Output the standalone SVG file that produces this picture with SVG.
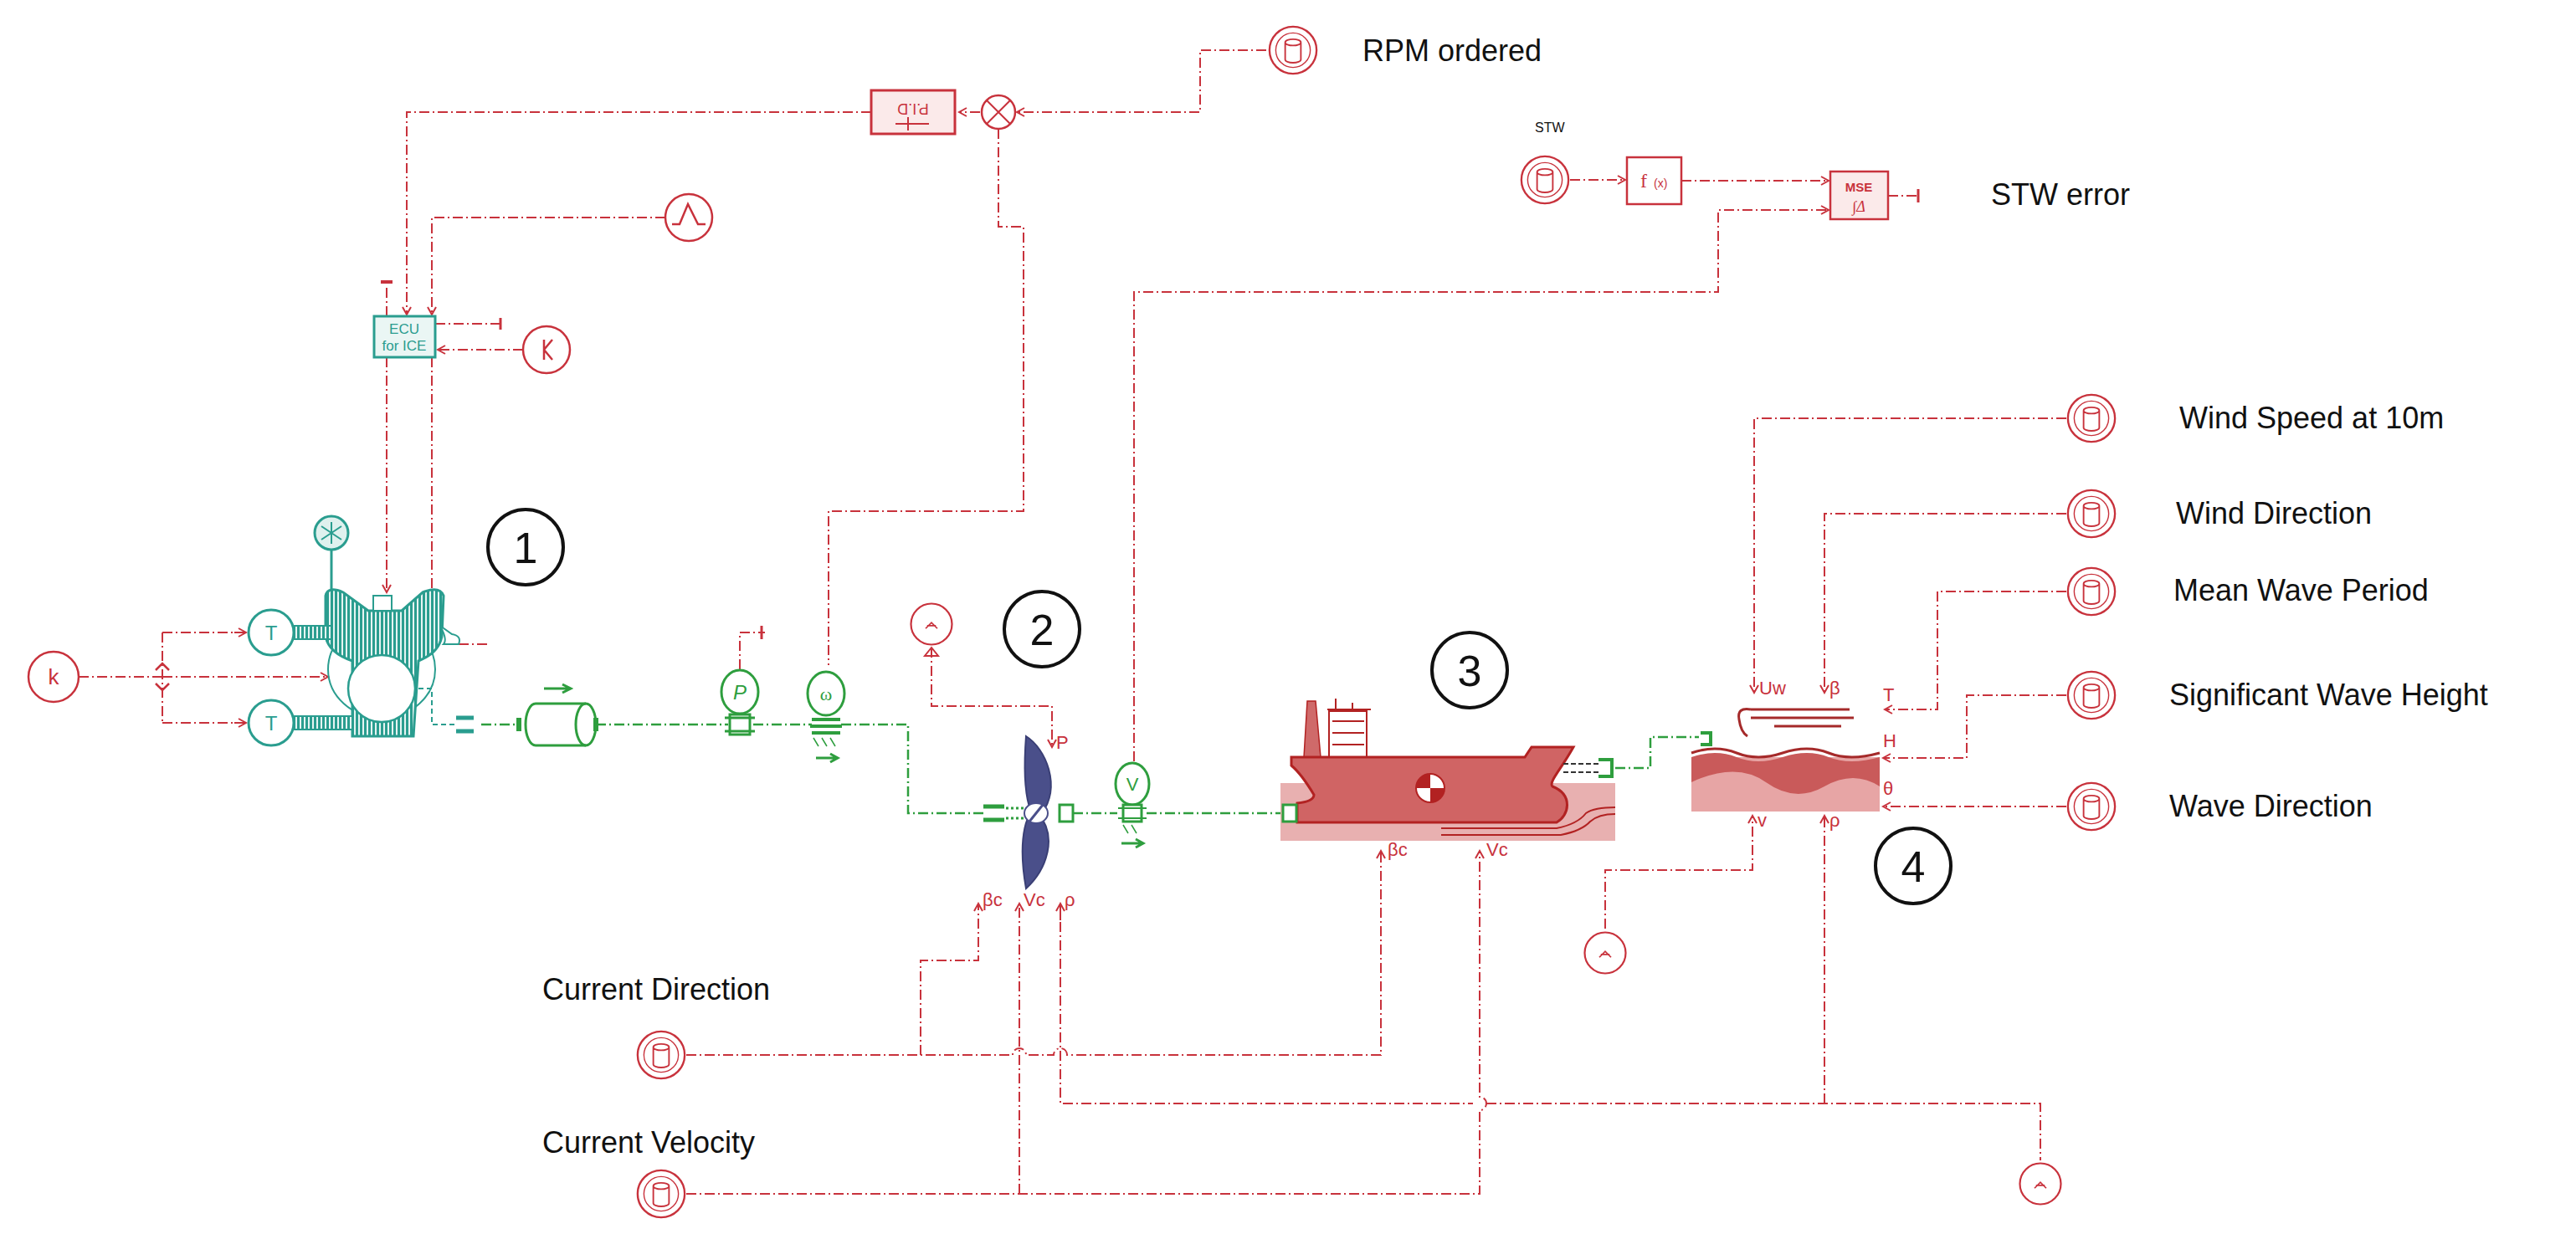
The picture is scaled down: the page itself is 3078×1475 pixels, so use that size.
<svg xmlns="http://www.w3.org/2000/svg" width="3078" height="1475" viewBox="0 0 3078 1475">
<style>
.sig{fill:none;stroke:#c8323c;stroke-width:2;stroke-dasharray:12,4,2,4}
.shaft{fill:none;stroke:#2e9e3e;stroke-width:2.5;stroke-dasharray:12,4,2,4}
.src{fill:#fff;stroke:#c8323c;stroke-width:2.5}
.red{fill:none;stroke:#c8323c;stroke-width:2.5}
.teal{fill:none;stroke:#2a9d8f;stroke-width:3}
.grn{fill:none;stroke:#2e9e3e;stroke-width:3}
.lbl{font-family:"Liberation Sans",Arial,sans-serif;font-size:36px;fill:#111}
.pl{font-family:"Liberation Sans",Arial,sans-serif;font-size:22px;fill:#c8323c}
.num{fill:#fff;stroke:#111;stroke-width:4}
.numt{font-family:"Liberation Sans",Arial,sans-serif;font-size:52px;fill:#111;text-anchor:middle}
</style>
<defs>
<marker id="ar" markerWidth="12" markerHeight="12" refX="10" refY="6" orient="auto" markerUnits="userSpaceOnUse"><path d="M1,1 L10,6 L1,11" fill="none" stroke="#c8323c" stroke-width="2"/></marker>
<pattern id="hatch" width="5" height="10" patternUnits="userSpaceOnUse"><rect width="5" height="10" fill="#e6f4f2"/><rect width="3" height="10" fill="#2a9d8f"/></pattern>
<symbol id="db" viewBox="-32 -32 64 64" overflow="visible">
<circle r="30" class="src"/><circle r="22" fill="none" stroke="#c8323c" stroke-width="1.5"/>
<path d="M-10,-10 V12 A10,4 0 0 0 10,12 V-10 A10,4 0 0 0 -10,-10 A10,4 0 0 0 10,-10" fill="none" stroke="#c8323c" stroke-width="2"/>
</symbol>
<symbol id="cst" viewBox="-32 -32 64 64" overflow="visible">
<circle r="28" class="src"/><path d="M-8,6 L0,-2 L8,6 M-6,2 L6,2" fill="none" stroke="#c8323c" stroke-width="2"/>
</symbol>
</defs>

<g id="connectors">
<path class="sig" d="M1513,60 H1434 V134 H1215" marker-end="url(#ar)"/>
<path class="sig" d="M1171,134 H1146" marker-end="url(#ar)"/>
<path class="sig" d="M1041,134 H486 V376" marker-end="url(#ar)"/>
<path class="sig" d="M795,260 H516 V376" marker-end="url(#ar)"/>
<path class="sig" d="M625,418 H523" marker-end="url(#ar)"/>
<path class="sig" d="M520,387 H598"/>
<path class="sig" d="M462,378 V340"/>
<path class="sig" d="M462,427 V708" marker-end="url(#ar)"/>
<path class="sig" d="M516,427 V708"/>
<path class="sig" d="M1193,154 V271 H1223 V611 H990 V795"/>
<path class="sig" d="M1876,215 H1942" marker-end="url(#ar)"/>
<path class="sig" d="M2009,216 H2185" marker-end="url(#ar)"/>
<path class="sig" d="M1355,910 V349 H2053 V251 H2185" marker-end="url(#ar)"/>
<path class="sig" d="M2256,234 H2290"/>
<path class="sig" d="M94,809 H194 M194,756 V864 M194,756 H294 M194,864 H294 M194,809 H390" />
<path class="sig" d="M280,756 H294" marker-end="url(#ar)"/>
<path class="sig" d="M280,864 H294" marker-end="url(#ar)"/>
<path class="sig" d="M370,809 H392" marker-end="url(#ar)"/>
<path class="sig" d="M548,770 H582"/>
<path class="sig" d="M884,800 V756 H914"/>
<path fill="none" stroke="#2a9d8f" stroke-width="2" stroke-dasharray="6,4" d="M460,823 H516 V866 H545"/>
<path class="shaft" d="M575,866 H620 M712,866 H870 M900,866 H970 M1005,866 H1085 V972 H1175 M1282,972 H1335 M1370,972 H1532"/>
<path class="shaft" d="M1930,918 H1972 V881 H2030"/>
<path class="sig" d="M1113,774 V844 H1257 V893" marker-end="url(#ar)"/>
<path class="sig" d="M820,1261 H1210 A8,8 0 0 1 1226,1261 H1259 A8,8 0 0 1 1275,1261 H1650 V1017" marker-end="url(#ar)"/>
<path class="sig" d="M1100,1261 V1148 H1169 V1080" marker-end="url(#ar)"/>
<path class="sig" d="M820,1427 H1768 V1327 A8,8 0 0 0 1768,1311 V1017" marker-end="url(#ar)"/>
<path class="sig" d="M1218,1427 V1080" marker-end="url(#ar)"/>
<path class="sig" d="M1267,1080 V1319 H1760 M1776,1319 H2438 V1387"/>
<path class="sig" d="M1267,1100 V1080" marker-end="url(#ar)"/>
<path class="sig" d="M2180,1319 V975" marker-end="url(#ar)"/>
<path class="sig" d="M1918,1110 V1040 H2094 V975" marker-end="url(#ar)"/>
<path class="sig" d="M2469,500 H2096 V828" marker-end="url(#ar)"/>
<path class="sig" d="M2469,614 H2180 V828" marker-end="url(#ar)"/>
<path class="sig" d="M2469,707 H2315 V848 H2252" marker-end="url(#ar)"/>
<path class="sig" d="M2469,831 H2350 V906 H2250" marker-end="url(#ar)"/>
<path class="sig" d="M2469,964 H2250" marker-end="url(#ar)"/>
</g>

<g id="rpm-src"><use href="#db" x="1515" y="30" width="60" height="60"/><text class="lbl" x="1628" y="73">RPM ordered</text></g>
<g id="pid"><rect x="1041" y="108" width="100" height="52" fill="#fbeaea" stroke="#c8323c" stroke-width="3"/>
<text x="1091" y="130" font-family="Liberation Sans,sans-serif" font-size="18" fill="#c8323c" text-anchor="middle" transform="rotate(180 1091 127)">P.I.D</text>
<path d="M1070,148 H1110 M1085,140 V156" stroke="#c8323c" stroke-width="2"/></g>
<g id="sum"><circle cx="1193" cy="134" r="20" class="src"/><path d="M1179,120 L1207,148 M1207,120 L1179,148" stroke="#c8323c" stroke-width="2"/></g>
<g id="sinus"><circle cx="823" cy="260" r="28" class="src"/><path d="M803,268 H812 L822,244 L834,268 H843" class="red" stroke-width="2"/></g>
<g id="ecu"><rect x="447" y="378" width="73" height="49" fill="#eaf6f4" stroke="#2a9d8f" stroke-width="3"/>
<text x="483" y="399" font-family="Liberation Sans,sans-serif" font-size="17" fill="#2a9d8f" text-anchor="middle">ECU</text>
<text x="483" y="419" font-family="Liberation Sans,sans-serif" font-size="17" fill="#2a9d8f" text-anchor="middle">for ICE</text>
<path d="M455,337 H469" stroke="#c8323c" stroke-width="4"/><path d="M598,380 V394" stroke="#c8323c" stroke-width="3"/></g>
<g id="kconst"><circle cx="653" cy="418" r="28" class="src"/><path d="M650,406 V430 M650,418 L660,406 M650,418 L660,430" class="red" stroke-width="2"/></g>

<g id="stw"><text x="1834" y="158" font-family="Liberation Sans,sans-serif" font-size="16" fill="#111">STW</text>
<use href="#db" x="1816" y="185" width="60" height="60"/></g>
<g id="fx"><rect x="1944" y="188" width="65" height="56" fill="#fff" stroke="#c8323c" stroke-width="2.5"/>
<text x="1960" y="224" font-family="Liberation Serif,serif" font-size="24" fill="#c8323c">f</text><text x="1976" y="224" font-family="Liberation Sans,sans-serif" font-size="14" fill="#c8323c">(x)</text></g>
<g id="mse"><rect x="2187" y="205" width="69" height="57" fill="#fbeaea" stroke="#c8323c" stroke-width="2.5"/>
<text x="2221" y="229" font-family="Liberation Sans,sans-serif" font-size="15" font-weight="bold" fill="#c8323c" text-anchor="middle">MSE</text>
<text x="2221" y="253" font-family="Liberation Serif,serif" font-size="18" font-style="italic" fill="#c8323c" text-anchor="middle">∫Δ</text>
<path d="M2292,226 V242" stroke="#c8323c" stroke-width="3"/>
<text class="lbl" x="2379" y="245">STW error</text></g>

<g id="engine">
<circle cx="396" cy="637" r="20" fill="#dff1ee" stroke="#2a9d8f" stroke-width="3"/><path d="M384,629 L408,645 M384,645 L408,629 M396,624 V650" stroke="#2a9d8f" stroke-width="2"/>
<path class="teal" d="M396,657 V705"/>
<ellipse cx="456" cy="800" rx="64" ry="58" fill="none" stroke="#2a9d8f" stroke-width="2"/>
<path d="M389,712 Q392,700 410,708 L440,730 H480 L505,708 Q525,700 530,712 L528,760 Q525,780 500,790 L494,880 H421 L421,790 Q392,780 389,760 Z" fill="url(#hatch)" stroke="#2a9d8f" stroke-width="3"/>
<circle cx="456" cy="823" r="40" fill="#fff" stroke="#2a9d8f" stroke-width="2.5"/>
<rect x="446" y="712" width="22" height="18" fill="#fff" stroke="#2a9d8f" stroke-width="2"/>
<circle cx="324" cy="756" r="27" fill="#fff" stroke="#2a9d8f" stroke-width="3"/><text x="324" y="765" font-family="Liberation Sans,sans-serif" font-size="24" fill="#2a9d8f" text-anchor="middle">T</text>
<circle cx="324" cy="864" r="27" fill="#fff" stroke="#2a9d8f" stroke-width="3"/><text x="324" y="873" font-family="Liberation Sans,sans-serif" font-size="24" fill="#2a9d8f" text-anchor="middle">T</text>
<rect x="351" y="748" width="45" height="16" fill="url(#hatch)" stroke="#2a9d8f" stroke-width="2"/>
<rect x="351" y="856" width="70" height="16" fill="url(#hatch)" stroke="#2a9d8f" stroke-width="2"/>
<path d="M526,748 Q535,765 530,770 H548 Q552,760 540,758 Z" fill="#fff" stroke="#2a9d8f" stroke-width="2"/>
<path d="M545,858 H566 M545,874 H566" stroke="#2a9d8f" stroke-width="5"/>
</g>
<g id="k-src"><circle cx="64" cy="809" r="30" class="src"/><text x="64" y="818" font-family="Liberation Sans,sans-serif" font-size="26" fill="#c8323c" text-anchor="middle">k</text>
<path d="M186,801 L194,793 L202,801 M186,817 L194,825 L202,817" class="red" stroke-width="2"/></g>

<g id="inertia"><path d="M640,841 H700 A12,25 0 0 1 700,891 H640 A12,25 0 0 1 640,841 Z" fill="#fff" stroke="#2e9e3e" stroke-width="3"/>
<path d="M700,841 A12,25 0 0 0 700,891" class="grn" stroke-width="2"/>
<path d="M620,858 V874 M712,858 V874" stroke="#2e9e3e" stroke-width="6"/>
<path d="M650,823 H680 M672,818 L682,823 L672,828" class="grn" stroke-width="2.5"/></g>
<g id="psensor"><ellipse cx="884" cy="827" rx="22" ry="26" fill="#fff" stroke="#2e9e3e" stroke-width="3"/><text x="884" y="836" font-family="Liberation Sans,sans-serif" font-size="24" font-style="italic" fill="#2e9e3e" text-anchor="middle">P</text>
<rect x="872" y="854" width="24" height="24" fill="#fff" stroke="#2e9e3e" stroke-width="3"/><path d="M866,858 H902 M866,874 H902" stroke="#2e9e3e" stroke-width="3"/>
<path d="M910,748 V764" stroke="#c8323c" stroke-width="3"/></g>
<g id="wsensor"><ellipse cx="987" cy="829" rx="22" ry="26" fill="#fff" stroke="#2e9e3e" stroke-width="3"/><text x="987" y="837" font-family="Liberation Serif,serif" font-size="22" fill="#2e9e3e" text-anchor="middle">ω</text>
<path d="M970,860 H1004 M968,868 H1006 M970,876 H1004" stroke="#2e9e3e" stroke-width="4"/>
<path d="M972,882 L978,892 M982,882 L988,892 M992,882 L998,892" stroke="#2e9e3e" stroke-width="1.5"/>
<path d="M975,906 H1000 M992,901 L1001,906 L992,911" class="grn" stroke-width="2.5"/></g>

<g id="propeller">
<path d="M1175,964 H1200 M1175,980 H1200" stroke="#2e9e3e" stroke-width="5"/>
<path d="M1202,966 H1225 M1202,978 H1225" stroke="#2e9e3e" stroke-width="3" stroke-dasharray="3,3"/>
<path d="M1226,880 C1250,895 1268,940 1245,972 C1235,990 1220,960 1226,880 Z" fill="#4a4f8a" stroke="#3a3f75" stroke-width="2"/>
<path d="M1226,1062 C1250,1040 1265,1000 1240,972 C1228,962 1215,1000 1226,1062 Z" fill="#4a4f8a" stroke="#3a3f75" stroke-width="2"/>
<ellipse cx="1238" cy="972" rx="14" ry="12" fill="#fff" stroke="#4a4f8a" stroke-width="2"/><path d="M1230,982 L1246,962" stroke="#4a4f8a" stroke-width="3"/>
<rect x="1266" y="962" width="16" height="20" fill="#fff" stroke="#2e9e3e" stroke-width="3"/>
<text class="pl" x="1262" y="895">P</text>
<text class="pl" x="1174" y="1083">βc</text><text class="pl" x="1223" y="1083">Vc</text><text class="pl" x="1272" y="1083">ρ</text>
<path d="M1113,774 l-8,10 h16 z" fill="none" stroke="#c8323c" stroke-width="2"/>
</g>
<g id="const-prop"><use href="#cst" x="1085" y="718" width="56" height="56"/></g>
<g id="vsensor"><ellipse cx="1353" cy="937" rx="20" ry="25" fill="#fff" stroke="#2e9e3e" stroke-width="3"/><text x="1353" y="945" font-family="Liberation Sans,sans-serif" font-size="22" fill="#2e9e3e" text-anchor="middle">V</text>
<rect x="1342" y="962" width="22" height="20" fill="#fff" stroke="#2e9e3e" stroke-width="3"/><path d="M1336,966 H1370 M1336,978 H1370" stroke="#2e9e3e" stroke-width="2"/>
<path d="M1342,986 L1348,996 M1352,986 L1358,996" stroke="#2e9e3e" stroke-width="1.5"/>
<path d="M1340,1008 H1365 M1357,1003 L1366,1008 L1357,1013" class="grn" stroke-width="2.5"/></g>

<g id="ship">
<rect x="1530" y="936" width="400" height="69" fill="#e8b0b0"/>
<path d="M1558,905 L1562,838 H1572 L1578,905 Z" fill="#cf6a6a" stroke="#b22222" stroke-width="1.5"/>
<rect x="1588" y="850" width="45" height="55" fill="#fff" stroke="#b22222" stroke-width="2"/>
<path d="M1592,862 H1630 M1592,876 H1630 M1592,890 H1630 M1586,848 H1638 M1596,835 V850 M1616,840 V850" stroke="#b22222" stroke-width="2"/>
<path d="M1543,905 H1822 L1830,893 H1880 C1865,920 1850,935 1855,940 C1880,950 1875,975 1860,983 H1550 V960 Q1570,958 1570,950 Q1555,925 1543,915 Z" fill="#d06464" stroke="#b22222" stroke-width="3"/>
<path d="M1722,990 H1860 Q1885,985 1895,972 Q1905,965 1930,965 M1722,998 H1865 Q1890,993 1900,982 Q1910,973 1930,973" fill="none" stroke="#b22222" stroke-width="2"/>
<circle cx="1709" cy="942" r="17" fill="#fff" stroke="#b22222" stroke-width="2"/>
<path d="M1709,942 V925 A17,17 0 0 0 1692,942 Z M1709,942 V959 A17,17 0 0 0 1726,942 Z" fill="#b22222"/>
<rect x="1533" y="962" width="16" height="20" fill="#fff" stroke="#2e9e3e" stroke-width="3"/>
<path d="M1868,913 H1912 M1868,923 H1912" stroke="#333" stroke-width="2" stroke-dasharray="6,3"/>
<path d="M1910,908 H1926 V928 H1910" fill="none" stroke="#2e9e3e" stroke-width="4"/>
<text class="pl" x="1658" y="1023">βc</text><text class="pl" x="1776" y="1023">Vc</text>
</g>

<g id="environment">
<rect x="2021" y="905" width="225" height="65" fill="#e7a5a5"/>
<path d="M2021,905 Q2050,895 2075,905 T2130,905 T2185,905 T2246,905 V940 Q2215,920 2180,940 T2110,935 T2021,935 Z" fill="#c95a5a"/>
<path d="M2021,900 Q2050,890 2075,900 T2130,900 T2185,900 T2246,900" fill="none" stroke="#a52a2a" stroke-width="3"/>
<path d="M2032,876 H2044 V890 H2032" fill="none" stroke="#2e9e3e" stroke-width="4"/>
<path d="M2092,848 H2210 M2092,858 H2215 M2120,868 H2200 M2092,848 Q2075,845 2078,860 Q2080,875 2088,880" fill="none" stroke="#a52a2a" stroke-width="3"/>
<text class="pl" x="2102" y="830">Uw</text><text class="pl" x="2186" y="830">β</text>
<text class="pl" x="2250" y="838">T</text><text class="pl" x="2250" y="893">H</text><text class="pl" x="2250" y="950">θ</text>
<text class="pl" x="2100" y="988">v</text><text class="pl" x="2186" y="988">ρ</text>
</g>
<g id="const-v"><use href="#cst" x="1890" y="1111" width="56" height="56"/></g>
<g id="const-rho"><use href="#cst" x="2410" y="1387" width="56" height="56"/></g>

<g id="wind-speed"><use href="#db" x="2469" y="470" width="60" height="60"/><text class="lbl" x="2604" y="512">Wind Speed at 10m</text></g>
<g id="wind-dir"><use href="#db" x="2469" y="584" width="60" height="60"/><text class="lbl" x="2600" y="626">Wind Direction</text></g>
<g id="mwp"><use href="#db" x="2469" y="677" width="60" height="60"/><text class="lbl" x="2597" y="718">Mean Wave Period</text></g>
<g id="swh"><use href="#db" x="2469" y="801" width="60" height="60"/><text class="lbl" x="2592" y="843">Significant Wave Height</text></g>
<g id="wdir"><use href="#db" x="2469" y="934" width="60" height="60"/><text class="lbl" x="2592" y="976">Wave Direction</text></g>
<g id="cur-dir"><use href="#db" x="760" y="1231" width="60" height="60"/><text class="lbl" x="648" y="1195">Current Direction</text></g>
<g id="cur-vel"><use href="#db" x="760" y="1397" width="60" height="60"/><text class="lbl" x="648" y="1378">Current Velocity</text></g>

<g id="n1"><circle cx="628" cy="654" r="45" class="num"/><text class="numt" x="628" y="673">1</text></g>
<g id="n2"><circle cx="1245" cy="752" r="45" class="num"/><text class="numt" x="1245" y="771">2</text></g>
<g id="n3"><circle cx="1756" cy="801" r="45" class="num"/><text class="numt" x="1756" y="820">3</text></g>
<g id="n4"><circle cx="2286" cy="1035" r="45" class="num"/><text class="numt" x="2286" y="1054">4</text></g>
</svg>
